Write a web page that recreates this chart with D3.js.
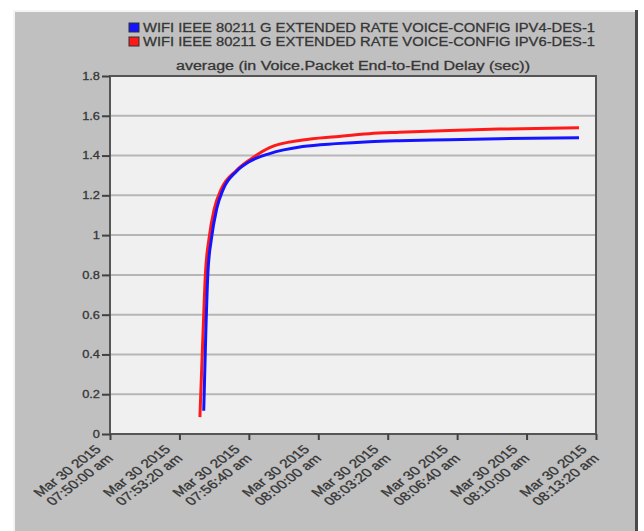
<!DOCTYPE html>
<html>
<head>
<meta charset="utf-8">
<script src="https://cdn.jsdelivr.net/npm/d3@7"></script>
<style>
  html, body { margin: 0; padding: 0; background: #ffffff; }
  svg { display: block; }
  text { font-family: "Liberation Sans", Arial, sans-serif; fill: #303030; stroke: #404040; stroke-width: 0.3px; }
</style>
</head>
<body>
<svg id="chart" width="644" height="531"></svg>
<script>
// ---- data ----
const seriesNames = [
  "WIFI IEEE 80211 G EXTENDED RATE VOICE-CONFIG IPV4-DES-1",
  "WIFI IEEE 80211 G EXTENDED RATE VOICE-CONFIG IPV6-DES-1"
];
const chartTitle = "average (in Voice.Packet End-to-End Delay (sec))";

const ipv4Times = ["07:54:30","07:54:36","07:54:42","07:54:52","07:55:07","07:55:26","07:56:04","07:56:42","07:57:40","07:59:15","08:00:51","08:02:27","08:03:53","08:06:17","08:08:41","08:12:31"];
const ipv4Values = [0.117, 0.51, 0.81, 0.98, 1.13, 1.23, 1.32, 1.37, 1.41, 1.445, 1.46, 1.47, 1.475, 1.48, 1.485, 1.49];

const ipv6Times = ["07:54:19","07:54:28","07:54:35","07:54:45","07:55:00","07:55:20","07:56:04","07:56:42","07:57:40","07:59:15","08:00:51","08:02:27","08:03:53","08:06:17","08:08:41","08:12:31"];
const ipv6Values = [0.085, 0.51, 0.81, 0.98, 1.13, 1.23, 1.325, 1.378, 1.44, 1.478, 1.495, 1.51, 1.517, 1.526, 1.533, 1.54];

const xTickTimes = ["07:50:00","07:53:20","07:56:40","08:00:00","08:03:20","08:06:40","08:10:00","08:13:20"];
const yTickValues = [0, 0.2, 0.4, 0.6, 0.8, 1, 1.2, 1.4, 1.6, 1.8];
const seriesColors = ["#1414ff", "#ff1a1a"];

// ---- setup ----
const parse = t => d3.timeParse("%Y-%m-%d %H:%M:%S")("2015-03-30 " + t);
const svg = d3.select("#chart");

const plot = { left: 110, right: 596, top: 76, bottom: 434 };

const x = d3.scaleTime()
  .domain([parse(xTickTimes[0]), parse(xTickTimes[xTickTimes.length - 1])])
  .range([plot.left, plot.right]);
const y = d3.scaleLinear().domain([0, 1.8]).range([plot.bottom, plot.top]);

// panel
svg.append("rect").attr("x", 13).attr("y", 10).attr("width", 624).attr("height", 530).attr("fill", "#c0c0c0");
svg.append("line").attr("x1", 14).attr("x2", 14).attr("y1", 10).attr("y2", 531).attr("stroke", "#f4f4f4").attr("stroke-width", 2);
svg.append("line").attr("x1", 13).attr("x2", 637).attr("y1", 11).attr("y2", 11).attr("stroke", "#f4f4f4").attr("stroke-width", 2);
svg.append("line").attr("x1", 636.5).attr("x2", 636.5).attr("y1", 10).attr("y2", 531).attr("stroke", "#4a4a4a").attr("stroke-width", 3);

// plot background
svg.append("rect").attr("x", plot.left).attr("y", plot.top)
  .attr("width", plot.right - plot.left).attr("height", plot.bottom - plot.top)
  .attr("fill", "#f0f0f0");

// grid
svg.append("g").selectAll("line").data(yTickValues.filter(v => v > 0 && v < 1.8)).join("line")
  .attr("x1", plot.left).attr("x2", plot.right)
  .attr("y1", d => y(d)).attr("y2", d => y(d))
  .attr("stroke", "#b6b6b6").attr("stroke-width", 2);

// lines
const line = d3.line()
  .x(d => x(d.t)).y(d => y(d.v))
  .curve(d3.curveMonotoneX);
const ipv4 = ipv4Times.map((t, i) => ({ t: parse(t), v: ipv4Values[i] }));
const ipv6 = ipv6Times.map((t, i) => ({ t: parse(t), v: ipv6Values[i] }));

svg.append("path").datum(ipv6).attr("d", line).attr("fill", "none")
  .attr("stroke", seriesColors[1]).attr("stroke-width", 3);
svg.append("path").datum(ipv4).attr("d", line).attr("fill", "none")
  .attr("stroke", seriesColors[0]).attr("stroke-width", 3);

// frame
svg.append("rect").attr("x", plot.left).attr("y", plot.top)
  .attr("width", plot.right - plot.left).attr("height", plot.bottom - plot.top)
  .attr("fill", "none").attr("stroke", "#555555").attr("stroke-width", 2);

// y axis
const yAxis = d3.axisLeft(y).tickValues(yTickValues).tickSize(8).tickPadding(3)
  .tickFormat(d => String(+d.toFixed(1)));
const gy = svg.append("g").attr("transform", `translate(${plot.left},0)`).call(yAxis);
gy.select(".domain").remove();
gy.selectAll(".tick line").attr("stroke", "#404040").attr("stroke-width", 2);
gy.selectAll(".tick text")
  .attr("font-size", 10.5)
  .attr("font-family", "Liberation Sans, Arial, sans-serif")
  .attr("fill", "#303030")
  .attr("x", null)
  .attr("transform", "translate(-10,0) scale(1.22,1)");

// x axis
const xTicks = xTickTimes.map(parse);
const gx = svg.append("g").attr("transform", `translate(0,${plot.bottom})`)
  .call(d3.axisBottom(x).tickValues(xTicks).tickSize(6).tickFormat(""));
gx.select(".domain").remove();
gx.selectAll(".tick line").attr("stroke", "#404040").attr("stroke-width", 2);

const fmtDate = d3.timeFormat("%b %d %Y");
const fmtTime = d => d3.timeFormat("%I:%M:%S %p")(d).toLowerCase();
const xl = svg.append("g").selectAll("text").data(xTicks).join("text")
  .attr("transform", d => `translate(${x(d) - 8},${plot.bottom + 16}) scale(1.3,1) rotate(-45)`)
  .attr("text-anchor", "end")
  .attr("font-size", 12)
  .attr("fill", "#303030");
xl.append("tspan").attr("x", 0).attr("dy", 0).text(d => fmtDate(d));
xl.append("tspan").attr("x", 0).attr("dy", 13).text(d => fmtTime(d));

// legend
const lg = svg.append("g");
seriesNames.forEach((name, i) => {
  const yy = 23 + i * 14;
  lg.append("rect").attr("x", 129).attr("y", yy).attr("width", 10).attr("height", 9)
    .attr("fill", seriesColors[i]).attr("stroke", "#303030").attr("stroke-width", 1);
  lg.append("text").attr("x", 143).attr("y", yy + 8.5)
    .attr("font-size", 12.5)
    .attr("textLength", 452).attr("lengthAdjust", "spacingAndGlyphs")
    .text(name);
});

// title
svg.append("text").attr("x", 176).attr("y", 70)
  .attr("font-size", 12)
  .attr("textLength", 354).attr("lengthAdjust", "spacingAndGlyphs")
  .text(chartTitle);
</script>
</body>
</html>
